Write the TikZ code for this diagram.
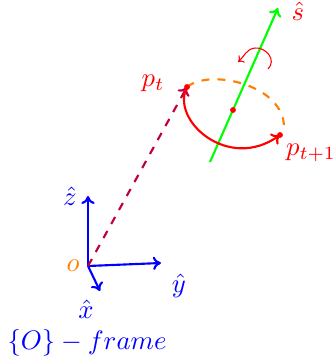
\documentclass[tikz,border=0pt]{standalone}
\usetikzlibrary{arrows.meta}
\begin{document}
\begin{tikzpicture}[x=0.375pt,y=-0.375pt,
  axis/.style={blue,thick,-{To[length=3pt,width=5pt]}},
  lbl/.style={inner sep=0pt},
  dot/.style={circle,fill=red,inner sep=0pt,minimum size=2.2pt}]
\useasboundingbox (0,0) rectangle (334,363);
\coordinate (O) at (88,266);
\coordinate (Z) at (88,196);
\coordinate (Y) at (161,263);
\coordinate (X) at (100,291);
\coordinate (Sb) at (210,162);
\coordinate (St) at (278,8);
\coordinate (Pt) at (187,87);
\coordinate (Pn) at (280,135);
\coordinate (C) at (233,110);
\coordinate (E) at (284,128);
% axes
\draw[axis] (O) -- (Z);
\draw[axis] (O) -- (Y);
\draw[axis] (O) -- (X);
\node[lbl,blue] (zl) at (70,196) {$\hat{z}$};
\node[lbl,blue] (yl) at (179,286) {$\hat{y}$};
\node[lbl,blue] (xl) at (86,309) {$\hat{x}$};
\node[lbl,orange] (ol) at (73,266) {$o$};
\node[lbl,blue] (fl) at (87,343) {$\{O\}-frame$};
% dashed position vector
\draw[purple,thick,dashed,-{To[length=3pt,width=5pt]}] (O) -- (Pt);
% axis s
\draw[green,thick,-{To[length=3pt,width=5pt]}] (Sb) -- (St);
\node[lbl,red] (sl) at (298,11) {$\hat{s}$};
% orbit
\draw[orange,thick,dashed] (Pt) .. controls (210,68) and (285,85) .. (E);
\draw[red,thick,-{To[length=3pt,width=5pt]}] (Pt) .. controls (170,120) and (228,172) .. (Pn);
\node[dot] (pt) at (Pt) {};
\node[dot] (pn) at (Pn) {};
\node[dot] (c) at (C) {};
\node[lbl,red] (ptl) at (153,83) {$p_t$};
\node[lbl,red] (pnl) at (311,153) {$p_{t+1}$};
% rotation arrow
\draw[red,thin,-{To[length=2pt,width=3.5pt]}] (268,69) .. controls (277,60) and (266,47) .. (255,48) .. controls (246,49) and (244,57) .. (238,62);
\end{tikzpicture}
\end{document}
